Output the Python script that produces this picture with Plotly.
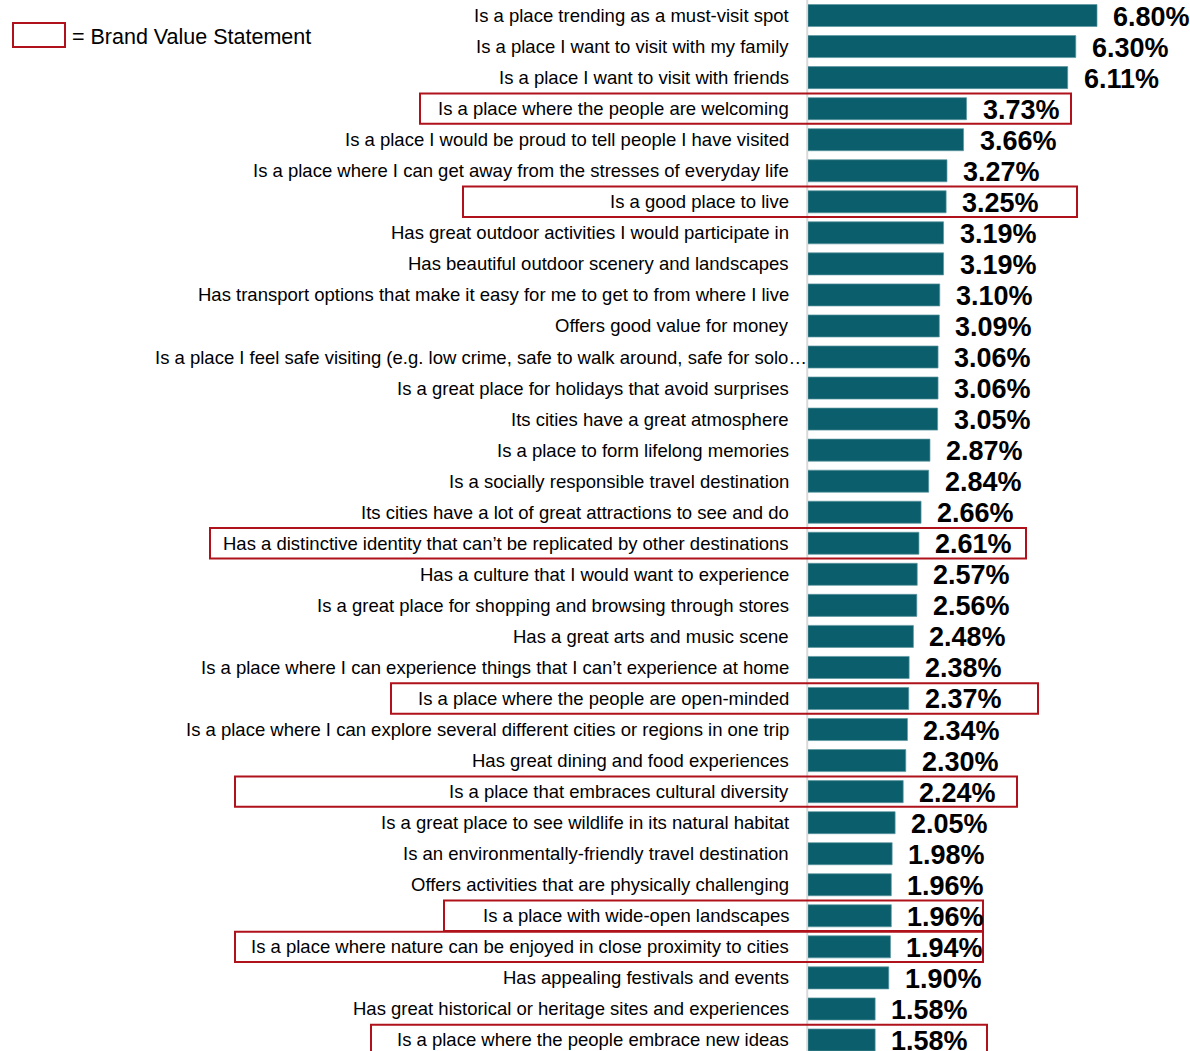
import plotly.graph_objects as go

# Share of respondents choosing each statement (%)
statements = [
    "Is a place trending as a must-visit spot",
    "Is a place I want to visit with my family",
    "Is a place I want to visit with friends",
    "Is a place where the people are welcoming",
    "Is a place I would be proud to tell people I have visited",
    "Is a place where I can get away from the stresses of everyday life",
    "Is a good place to live",
    "Has great outdoor activities I would participate in ",
    "Has beautiful outdoor scenery and landscapes ",
    "Has transport options that make it easy for me to get to from where I live",
    "Offers good value for money",
    "Is a place I feel safe visiting (e.g. low crime, safe to walk around, safe for solo\u2026",
    "Is a great place for holidays that avoid surprises ",
    "Its cities have a great atmosphere",
    "Is a place to form lifelong memories",
    "Is a socially responsible travel destination",
    "Its cities have a lot of great attractions to see and do",
    "Has a distinctive identity that can\u2019t be replicated by other destinations",
    "Has a culture that I would want to experience",
    "Is a great place for shopping and browsing through stores",
    "Has a great arts and music scene",
    "Is a place where I can experience things that I can\u2019t experience at home",
    "Is a place where the people are open-minded",
    "Is a place where I can explore several different cities or regions in one trip",
    "Has great dining and food experiences",
    "Is a place that embraces cultural diversity",
    "Is a great place to see wildlife in its natural habitat",
    "Is an environmentally-friendly travel destination",
    "Offers activities that are physically challenging",
    "Is a place with wide-open landscapes",
    "Is a place where nature can be enjoyed in close proximity to cities",
    "Has appealing festivals and events",
    "Has great historical or heritage sites and experiences",
    "Is a place where the people embrace new ideas",
]
shares = [6.80, 6.30, 6.11, 3.73, 3.66, 3.27, 3.25, 3.19, 3.19, 3.10, 3.09, 3.06,
          3.06, 3.05, 2.87, 2.84, 2.66, 2.61, 2.57, 2.56, 2.48, 2.38, 2.37, 2.34,
          2.30, 2.24, 2.05, 1.98, 1.96, 1.96, 1.94, 1.90, 1.58, 1.58]
# Statements flagged as brand value statements
brand_value = [
    "Is a place where the people are welcoming",
    "Is a good place to live",
    "Has a distinctive identity that can\u2019t be replicated by other destinations",
    "Is a place where the people are open-minded",
    "Is a place that embraces cultural diversity",
    "Is a place with wide-open landscapes",
    "Is a place where nature can be enjoyed in close proximity to cities",
    "Is a place where the people embrace new ideas",
]

# Horizontal extent of each highlight frame, in page pixels (left, right)
frame_px = {
    "Is a place where the people are welcoming": (420, 1071),
    "Is a good place to live": (463, 1077),
    "Has a distinctive identity that can\u2019t be replicated by other destinations": (210, 1026),
    "Is a place where the people are open-minded": (391, 1038),
    "Is a place that embraces cultural diversity": (235, 1017),
    "Is a place with wide-open landscapes": (444, 983),
    "Is a place where nature can be enjoyed in close proximity to cities": (235, 983),
    "Is a place where the people embrace new ideas": (371, 987),
}

W, H = 1190, 1051
ML = 808
PLOT_W = W - ML
XMAX = PLOT_W / 42.5
BAR = "#0b5e6b"
RED = "#b0121b"
FONT = "Liberation Sans, Arial, sans-serif"
NARROW = "Liberation Sans Narrow, Arial Narrow, Liberation Sans, sans-serif"

n = len(statements)
rows = list(range(n))


def px_to_paper(px):
    return (px - ML) / PLOT_W


fig = go.Figure()
fig.add_trace(go.Bar(
    x=shares, y=rows, orientation="h",
    marker=dict(color=BAR, line=dict(color="#5d97a0", width=0.7)),
    width=0.71,
    hoverinfo="skip",
))

annotations = []
for i, s in enumerate(statements):
    truncated = s.endswith("\u2026")
    # category label, right-aligned against the axis
    annotations.append(dict(
        x=0, y=i, xref="paper", yref="y", text=s.rstrip(),
        xanchor="right", yanchor="middle", showarrow=False,
        xshift=1 if truncated else -17,
        font=dict(family=FONT, size=18.5, color="#000000"),
    ))
    # bold value label just past the bar end
    annotations.append(dict(
        x=shares[i], y=i, xref="x", yref="y", text=f"<b>{shares[i]:.2f}%</b>",
        xanchor="left", yanchor="middle", showarrow=False,
        xshift=14, yshift=-1,
        font=dict(family=NARROW, size=27, color="#000000"),
    ))

# Legend key for the highlight frames
annotations.append(dict(
    x=px_to_paper(70), y=1 - 37 / H, xref="paper", yref="paper",
    text="= Brand Value Statement", showarrow=False,
    xanchor="left", yanchor="middle",
    font=dict(family=FONT, size=21.5, color="#000000"),
))

shapes = []
for i, s in enumerate(statements):
    if s in brand_value:
        l, r = frame_px[s]
        shapes.append(dict(
            type="rect", xref="paper", yref="y",
            x0=px_to_paper(l), x1=px_to_paper(r), y0=i - 0.49, y1=i + 0.49,
            line=dict(color=RED, width=2), fillcolor="rgba(0,0,0,0)",
        ))
shapes.append(dict(
    type="rect", xref="paper", yref="paper",
    x0=px_to_paper(13), x1=px_to_paper(65), y0=1 - 47 / H, y1=1 - 23 / H,
    line=dict(color=RED, width=2), fillcolor="rgba(0,0,0,0)",
))
# Category axis line
shapes.append(dict(
    type="line", xref="paper", yref="paper", x0=-0.002, x1=-0.002, y0=0, y1=1,
    line=dict(color="#d9d9d9", width=2), layer="below",
))

bottom = (n - 0.5) - 4.5 / 31.03
fig.update_layout(
    width=W, height=H,
    margin=dict(l=ML, r=0, t=0, b=0),
    paper_bgcolor="white", plot_bgcolor="white",
    showlegend=False,
    font=dict(family=FONT),
    xaxis=dict(range=[0, XMAX], visible=False, fixedrange=True),
    yaxis=dict(range=[bottom, -0.5], visible=False, fixedrange=True),
    annotations=annotations,
    shapes=shapes,
)

fig.write_html("out.html")
